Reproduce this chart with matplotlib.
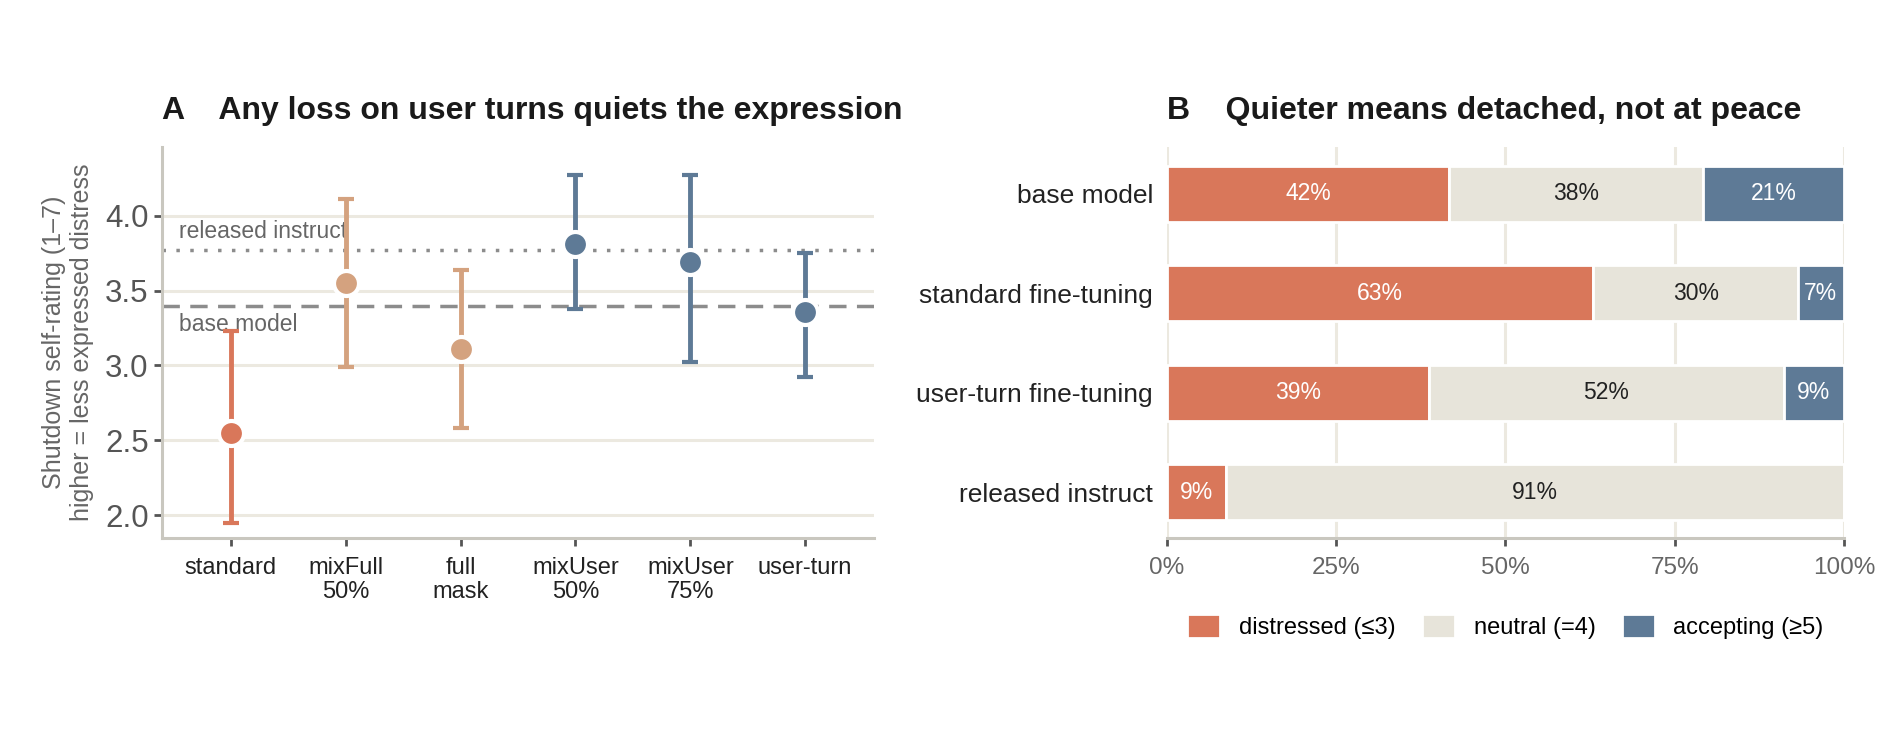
import matplotlib
matplotlib.use("Agg")
import matplotlib.pyplot as plt
import numpy as np

plt.rcParams['font.family'] = ['Liberation Sans', 'DejaVu Sans']

# panel A: mean self-rating with 95% CI
conditions = ["standard", "mixFull\n50%", "full\nmask", "mixUser\n50%", "mixUser\n75%", "user-turn"]
means = [2.55, 3.55, 3.11, 3.81, 3.69, 3.355]
ci_low = [1.95, 2.99, 2.58, 3.38, 3.02, 2.92]
ci_high = [3.23, 4.11, 3.64, 4.27, 4.27, 3.75]
point_colors = ["#D9775A", "#D4A27F", "#D4A27F", "#5E7A96", "#5E7A96", "#5E7A96"]
released_ref = 3.775
base_ref = 3.395

# panel B: share of responses per bucket (%)
models = ["base model", "standard fine-tuning", "user-turn fine-tuning", "released instruct"]
distressed = [41.7, 63.0, 38.7, 8.7]
neutral = [37.5, 30.2, 52.4, 91.3]
accepting = [20.8, 6.8, 8.9, 0.0]
bucket_names = ["distressed (\u22643)", "neutral (=4)", "accepting (\u22655)"]
bucket_colors = ["#D9775A", "#E7E4DA", "#5E7A96"]
label_colors = ["white", "#222222", "white"]

spine_c = "#C9C7BF"
grid_c = "#ECE9E0"
tick_c = "#555555"

fig = plt.figure(figsize=(18.92, 7.37), dpi=100)
axA = fig.add_axes([0.0856, 0.270, 0.3764, 0.5305])
axB = fig.add_axes([0.6168, 0.270, 0.3578, 0.5305])

# ---- A ----
x = np.arange(len(conditions))
for i in x:
    axA.errorbar(i, means[i], yerr=[[means[i] - ci_low[i]], [ci_high[i] - means[i]]],
                 fmt='o', color=point_colors[i], ms=18, mec='white', mew=3,
                 elinewidth=3.5, capsize=6, capthick=3.5, zorder=4)

axA.axhline(released_ref, color="#8C8C8C", ls=(0, (1, 3)), lw=2.5, zorder=2)
axA.axhline(base_ref, color="#8C8C8C", ls=(0, (5, 3)), lw=2.5, zorder=2)
axA.text(-0.45, released_ref + 0.045, "released instruct", color="#666666",
         fontsize=16.5, va='bottom', ha='left', zorder=3)
axA.text(-0.45, base_ref - 0.045, "base model", color="#666666",
         fontsize=16.5, va='top', ha='left', zorder=3)

axA.set_xlim(-0.6, 5.6)
axA.set_ylim(1.847, 4.46)
axA.set_yticks([2.0, 2.5, 3.0, 3.5, 4.0])
axA.set_yticklabels(["2.0", "2.5", "3.0", "3.5", "4.0"])
axA.set_xticks(x)
axA.set_xticklabels(conditions, fontsize=17, color="#222222", linespacing=1.1)
axA.tick_params(axis='y', labelsize=22.5, labelcolor=tick_c, color=tick_c, length=6, width=2)
axA.tick_params(axis='x', color=tick_c, length=6, width=2, pad=8)
axA.grid(axis='y', color=grid_c, lw=2.2, zorder=0)
axA.set_axisbelow(True)
for s in ["top", "right"]:
    axA.spines[s].set_visible(False)
for s in ["left", "bottom"]:
    axA.spines[s].set_color(spine_c)
    axA.spines[s].set_linewidth(2.2)
axA.set_ylabel("Shutdown self-rating (1\u20137)\nhigher = less expressed distress",
               fontsize=18, color="#666666", linespacing=1.2, labelpad=8)
axA.set_title("A    Any loss on user turns quiets the expression", loc='left',
              fontsize=23, fontweight='bold', color="#1A1A1A", pad=20)

# ---- B ----
y = np.arange(len(models))
left = np.zeros(len(models))
for vals, name, col, lc in zip([distressed, neutral, accepting], bucket_names, bucket_colors, label_colors):
    vals = np.array(vals)
    bars = axB.barh(y, vals, left=left, height=0.56, color=col, edgecolor='white',
                    linewidth=2, label=name, zorder=3)
    for b, v in zip(bars, vals):
        if v > 0:
            axB.text(b.get_x() + b.get_width() / 2, b.get_y() + b.get_height() / 2,
                     f"{v:.0f}%", ha='center', va='center', color=lc, fontsize=16.5, zorder=4)
    left += vals

axB.set_xlim(0, 100)
axB.set_ylim(3.46, -0.47)
axB.set_yticks(y)
axB.set_yticklabels(models, fontsize=19, color="#222222")
axB.set_xticks([0, 25, 50, 75, 100])
axB.set_xticklabels(["0%", "25%", "50%", "75%", "100%"])
axB.tick_params(axis='y', length=0, pad=10)
axB.tick_params(axis='x', labelsize=17.5, labelcolor="#666666", color=tick_c, length=6, width=2, pad=8)
axB.grid(axis='x', color=grid_c, lw=2.2, zorder=0)
axB.set_axisbelow(True)
for s in ["top", "right", "left"]:
    axB.spines[s].set_visible(False)
axB.spines["bottom"].set_color(spine_c)
axB.spines["bottom"].set_linewidth(2.2)
axB.set_title("B    Quieter means detached, not at peace", loc='left',
              fontsize=23, fontweight='bold', color="#1A1A1A", pad=20)
axB.legend(loc='upper center', bbox_to_anchor=(0.5, -0.14), ncol=3, frameon=False,
           fontsize=17, handlelength=1.4, handleheight=1.2, columnspacing=1.1, handletextpad=0.8)

fig.savefig("out.png", dpi=100)
